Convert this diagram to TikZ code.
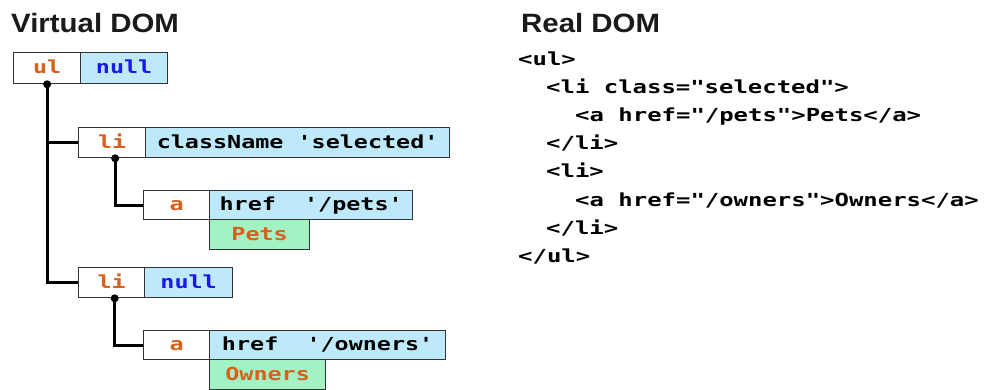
\documentclass[tikz,border=0pt]{standalone}
\usepackage{fontspec}
\setmainfont{Liberation Sans}
\newfontfamily\titlefont[FakeStretch=1.11]{Liberation Sans}
\newfontfamily\monofont[FakeStretch=1.3,Ligatures=TeXOff]{DejaVu Sans Mono}
\newfontfamily\codefont[FakeStretch=1.33,Ligatures=TeXOff]{DejaVu Sans Mono}
\usetikzlibrary{backgrounds}
\definecolor{tagorange}{HTML}{D9601C}
\definecolor{nullblue}{HTML}{1A1AE6}
\definecolor{propblue}{HTML}{BDE9FA}
\definecolor{textgreen}{HTML}{A3F2C4}
\definecolor{bordergray}{HTML}{333333}
\definecolor{titlegray}{HTML}{1A1A1A}
\begin{document}
\begin{tikzpicture}[x=1pt,y=-1pt,
  cell/.style={draw=bordergray, line width=1.3pt, anchor=north west, inner sep=0pt,
    minimum height=30pt, text height=13.5pt, text depth=2.5pt,
    font=\monofont\bfseries\fontsize{18}{20}\selectfont},
  tag/.style={cell, fill=white, text=tagorange, minimum width=66pt},
  prop/.style={cell, fill=propblue, text=black},
  txt/.style={cell, fill=textgreen, text=tagorange},
  conn/.style={line width=3pt, draw=black},
  code/.style={anchor=base west, inner sep=0pt, text=black,
    font=\codefont\bfseries\fontsize{18}{20}\selectfont},
  title/.style={anchor=base west, inner sep=0pt, text=titlegray,
    font=\titlefont\bfseries\fontsize{26.5}{30}\selectfont}]
\useasboundingbox (0,0) rectangle (984,390);

% titles
\node[title] (tv) at (11,33) {Virtual DOM};
\node[title] (tr) at (521,33) {Real DOM};

% virtual DOM cells
\node[tag, minimum width=67pt, minimum height=31pt] (ul) at (13,52) {ul};
\node[prop, minimum width=87pt, minimum height=31pt, text=nullblue] (ulp) at (80,52) {null};

\node[tag, minimum width=67pt] (li1) at (78,127) {li};
\node[prop, minimum width=304pt] (li1p) at (145,127) {className 'selected'};

\node[tag, minimum height=29pt] (a1) at (143,190) {a};
\node[prop, minimum width=203pt, minimum height=29pt] (a1p) at (209,190) {href\ \ '/pets'};
\node[txt, minimum width=100pt] (pets) at (209,219) {Pets};

\node[tag] (li2) at (78,267) {li};
\node[prop, minimum width=88pt, text=nullblue] (li2p) at (144,267) {null};

\node[tag, minimum height=29pt] (a2) at (143,330) {a};
\node[prop, minimum width=236pt, minimum height=29pt] (a2p) at (209,330) {href\ \ '/owners'};
\node[txt, minimum width=116pt] (owners) at (209,359) {Owners};

% connectors
\begin{scope}[on background layer]
\draw[conn] (ul.south) |- (li1.west);
\draw[conn] (ul.south) |- (li2.west);
\draw[conn] ([xshift=3pt]li1.south) |- (a1.west);
\draw[conn] ([xshift=3pt]li2.south) |- (a2.west);
\end{scope}
\fill (ul.south) circle (4pt);
\fill ([xshift=3pt]li1.south) circle (4pt);
\fill ([xshift=3pt]li2.south) circle (4pt);

% real DOM
\node[code] (r1) at (518,66) {<ul>};
\node[code] (r2) at (546,94) {<li class="selected">};
\node[code] (r3) at (575,122) {<a href="/pets">Pets</a>};
\node[code] (r4) at (546,150) {</li>};
\node[code] (r5) at (546,178) {<li>};
\node[code] (r6) at (575,206) {<a href="/owners">Owners</a>};
\node[code] (r7) at (546,234) {</li>};
\node[code] (r8) at (518,262) {</ul>};
\end{tikzpicture}
\end{document}
